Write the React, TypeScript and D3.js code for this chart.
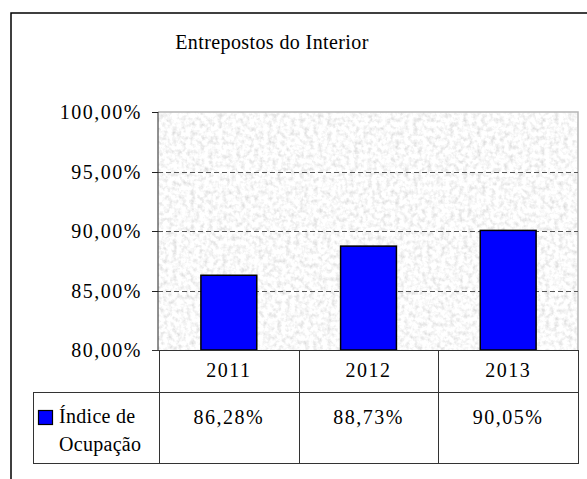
import { useEffect } from "react";
import { scaleBand, scaleLinear } from "d3";

const years = ["2011", "2012", "2013"];
const occupancy = [0.8628, 0.8873, 0.9005];
const occupancyLabels = ["86,28%", "88,73%", "90,05%"];
const yTicks = [0.8, 0.85, 0.9, 0.95, 1.0];
const yTickLabels = ["80,00%", "85,00%", "90,00%", "95,00%", "100,00%"];
const title = "Entrepostos do Interior";
const seriesName = ["Índice de", "Ocupação"];

const txt = { fontFamily: "Liberation Serif", fontSize: 20 };

export default function App() {
  useEffect(() => {
    document.body.style.margin = "0";
  }, []);

  const plot = { left: 158, right: 578, top: 112, bottom: 350 };
  const table = { left: 33, row1: 392, row2: 463 };

  const x = scaleBand()
    .domain(years)
    .range([plot.left + 1, plot.right])
    .paddingInner(0.6)
    .paddingOuter(0.3);
  const y = scaleLinear().domain([0.8, 1]).range([plot.bottom, plot.top]);

  const step = x.step();
  const colLeft = (i: number) => plot.left + 1 + i * step;

  return (
    <svg width={587} height={479} style={{ display: "block" }}>
      <defs>
        <filter id="granite" x="0" y="0" width="1" height="1">
          <feTurbulence type="fractalNoise" baseFrequency="0.22" numOctaves={3} seed={3} />
          <feColorMatrix
            type="matrix"
            values="0.6 0 0 0 0.65  0.6 0 0 0 0.65  0.6 0 0 0 0.65  0 0 0 0 1"
          />
        </filter>
      </defs>
      <rect width={587} height={479} fill="#fff" />
      {/* outer frame */}
      <path d="M11,479 V13 H587" fill="none" stroke="#000" strokeWidth={1.5} />

      <text x={272} y={49} textAnchor="middle" style={txt} letterSpacing={0.4}>
        {title}
      </text>

      {/* plot area */}
      <rect
        x={plot.left}
        y={plot.top}
        width={plot.right - plot.left}
        height={plot.bottom - plot.top}
        filter="url(#granite)"
      />
      <path
        d={`M${plot.left},${plot.top} H${plot.right} V${plot.bottom}`}
        fill="none"
        stroke="#b5b5b5"
        strokeWidth={1.5}
      />

      {yTicks.slice(1, 4).map((t) => (
        <line
          key={`g${t}`}
          x1={plot.left}
          x2={plot.right}
          y1={Math.round(y(t)) + 0.5}
          y2={Math.round(y(t)) + 0.5}
          stroke="#555"
          strokeDasharray="5,3"
        />
      ))}

      {years.map((yr, i) => (
        <rect
          key={yr}
          x={x(yr)}
          y={y(occupancy[i])}
          width={x.bandwidth()}
          height={plot.bottom - y(occupancy[i])}
          fill="#0000ff"
          stroke="#000"
          strokeWidth={1.5}
        />
      ))}

      {/* y axis */}
      <line x1={plot.left} x2={plot.left} y1={plot.top} y2={plot.bottom} stroke="#222" />
      {yTicks.map((t, i) => (
        <g key={`t${t}`}>
          <line
            x1={plot.left - 6}
            x2={plot.left}
            y1={Math.round(y(t)) + 0.5}
            y2={Math.round(y(t)) + 0.5}
            stroke="#222"
          />
          <text x={142} y={y(t)} dy="0.35em" textAnchor="end" style={txt} letterSpacing={1.5}>
            {yTickLabels[i]}
          </text>
        </g>
      ))}

      {/* data table */}
      <g stroke="#333" strokeWidth={1} fill="none">
        <line x1={plot.left - 6} x2={plot.right + 1} y1={plot.bottom + 0.5} y2={plot.bottom + 0.5} />
        <line x1={table.left} x2={plot.right + 1} y1={table.row1 + 0.5} y2={table.row1 + 0.5} />
        <line x1={table.left} x2={plot.right + 1} y1={table.row2 + 0.5} y2={table.row2 + 0.5} />
        <line x1={table.left + 0.5} x2={table.left + 0.5} y1={table.row1} y2={table.row2 + 1} />
        {[0, 1, 2, 3].map((i) => (
          <line
            key={`c${i}`}
            x1={Math.round(colLeft(i)) + 0.5}
            x2={Math.round(colLeft(i)) + 0.5}
            y1={plot.bottom}
            y2={table.row2 + 1}
          />
        ))}
      </g>

      {years.map((yr, i) => (
        <g key={`tx${yr}`}>
          <text x={colLeft(i) + step / 2} y={377} textAnchor="middle" style={txt} letterSpacing={1.5}>
            {yr}
          </text>
          <text x={colLeft(i) + step / 2} y={424} textAnchor="middle" style={txt} letterSpacing={1.5}>
            {occupancyLabels[i]}
          </text>
        </g>
      ))}

      <rect x={38.5} y={410.5} width={14} height={14} fill="#0000ff" stroke="#000" strokeWidth={1.2} />
      <text x={59} y={423} style={txt} letterSpacing={0.3}>
        {seriesName[0]}
      </text>
      <text x={59} y={451} style={txt} letterSpacing={0.3}>
        {seriesName[1]}
      </text>
    </svg>
  );
}
